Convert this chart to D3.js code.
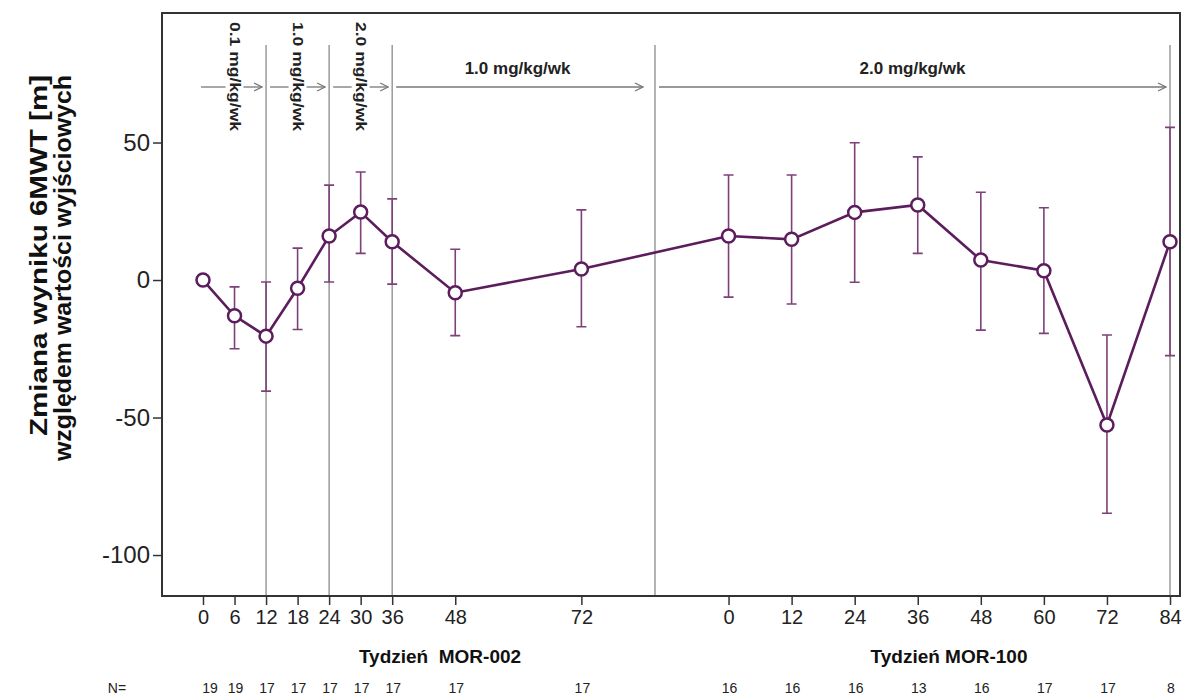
<!DOCTYPE html>
<html>
<head>
<meta charset="utf-8">
<script src="https://cdn.jsdelivr.net/npm/d3@7"></script>
<style>
body { margin: 0; background: #fff; }
text { font-family: "Liberation Sans", Arial, sans-serif; }
</style>
</head>
<body>
<div class="content"></div>
<script>
// MOR-002 study
var weeks002 = [0, 6, 12, 18, 24, 30, 36, 48, 72];
var mean002 = [0, -13, -20.4, -3, 16, 24.7, 13.9, -4.6, 4];
var lo002 = [null, -25, -40.4, -18, -0.7, 9.7, -1.5, -20.2, -17];
var hi002 = [null, -2.5, -0.7, 11.6, 34.5, 39.3, 29.5, 11.2, 25.5];
var n002 = [19, 19, 17, 17, 17, 17, 17, 17, 17];
// MOR-100 extension
var weeks100 = [0, 12, 24, 36, 48, 60, 72, 84];
var mean100 = [16, 14.8, 24.6, 27.3, 7.3, 3.4, -52.7, 13.9];
var lo100 = [-6.2, -8.7, -0.8, 9.7, -18.2, -19.4, -84.8, -27.5];
var hi100 = [38.2, 38.2, 49.9, 44.8, 31.9, 26.3, -20, 55.5];
var n100 = [16, 16, 16, 13, 16, 17, 17, 8];
// dosing phases (weeks on the joined axis, MOR-100 starts at 100)
var offset100 = 100;
var phaseStart = [0, 12, 24, 36, 86];
var phaseEnd = [12, 24, 36, 86, 184];
var doses = ["0.1 mg/kg/wk", "1.0 mg/kg/wk", "2.0 mg/kg/wk", "1.0 mg/kg/wk", "2.0 mg/kg/wk"];
var yTicks = [50, 0, -50, -100];

var width = 1184, height = 699;
var L = 162, R = 1180, T = 13, B = 596;
var purple = "#5c1d5c", barColor = "#7d4079", grey = "#9a9a9a";

var svg = d3.select(".content").append("svg").attr("width", width).attr("height", height);

var x = d3.scaleLinear().domain([-7.8, 185.9]).range([L, R]);
var y = d3.scaleLinear().domain([-114.9, 97.1]).range([B, T]);

var pts = [];
weeks002.forEach(function(w, i){ pts.push({w: w, m: mean002[i], lo: lo002[i], hi: hi002[i], n: n002[i], lab: w}); });
weeks100.forEach(function(w, i){ pts.push({w: w + offset100, m: mean100[i], lo: lo100[i], hi: hi100[i], n: n100[i], lab: w}); });

// phase separators
svg.selectAll(".sep").data(phaseEnd).enter().append("line")
  .attr("x1", function(d){ return x(d); }).attr("x2", function(d){ return x(d); })
  .attr("y1", 45).attr("y2", B)
  .attr("stroke", grey).attr("stroke-width", 1.5);

// arrows
var defs = svg.append("defs");
defs.append("marker").attr("id", "arr").attr("viewBox", "0 0 10 10").attr("refX", 9).attr("refY", 5)
  .attr("markerWidth", 10).attr("markerHeight", 10).attr("markerUnits", "userSpaceOnUse").attr("orient", "auto")
  .append("path").attr("d", "M1,1L9,5L1,9").attr("fill", "none").attr("stroke", "#777").attr("stroke-width", 1.3);

var ay = 87;
doses.forEach(function(txt, i){
  var x0 = i == 0 ? x(phaseStart[i]) - 2 : x(phaseStart[i]) + 4;
  var x1 = x(phaseEnd[i]) - (i == 3 ? 12 : 4);
  var xm = x((phaseStart[i] + phaseEnd[i]) / 2);
  if (i < 3) {
    svg.append("path").attr("d", "M" + x0 + "," + ay + "L" + (xm - 9) + "," + ay)
      .attr("stroke", "#777").attr("stroke-width", 1.3);
    svg.append("path").attr("d", "M" + (xm + 9) + "," + ay + "L" + x1 + "," + ay)
      .attr("stroke", "#777").attr("stroke-width", 1.3).attr("marker-end", "url(#arr)");
    svg.append("text").attr("transform", "translate(" + (xm - 5) + ",22) rotate(90)")
      .attr("font-size", 15).attr("font-weight", "bold").attr("fill", "#222")
      .attr("textLength", 109).attr("lengthAdjust", "spacingAndGlyphs").text(txt);
  } else {
    svg.append("path").attr("d", "M" + x0 + "," + ay + "L" + x1 + "," + ay)
      .attr("stroke", "#777").attr("stroke-width", 1.3).attr("marker-end", "url(#arr)");
    svg.append("text").attr("x", i == 3 ? xm - 6 : xm).attr("y", 74).attr("text-anchor", "middle")
      .attr("font-size", 17).attr("font-weight", "bold").attr("fill", "#222").text(txt);
  }
});

// frame
svg.append("rect").attr("x", L).attr("y", T).attr("width", R - L).attr("height", B - T)
  .attr("fill", "none").attr("stroke", "#333").attr("stroke-width", 2);

// axes
var xa = svg.append("g").attr("transform", "translate(0," + B + ")")
  .call(d3.axisBottom(x).tickValues(pts.map(function(d){ return d.w; }))
    .tickFormat(function(d, i){ return pts[i].lab; }).tickSize(9).tickPadding(5));
xa.select(".domain").remove();
xa.selectAll("line").attr("stroke", "#333").attr("stroke-width", 1.5);
xa.selectAll("text").attr("font-size", 20).attr("fill", "#222").attr("font-family", "Liberation Sans, Arial, sans-serif");

var ya = svg.append("g").attr("transform", "translate(" + L + ",0)")
  .call(d3.axisLeft(y).tickValues(yTicks).tickFormat(function(d){ return String(d); }).tickSize(9).tickPadding(3));
ya.select(".domain").remove();
ya.selectAll("line").attr("stroke", "#333").attr("stroke-width", 1.5);
ya.selectAll("text").attr("font-size", 24).attr("fill", "#222").attr("font-family", "Liberation Sans, Arial, sans-serif");

// axis titles
svg.append("text").attr("x", 440).attr("y", 663).attr("text-anchor", "middle")
  .attr("font-size", 19).attr("font-weight", "bold").attr("fill", "#111").attr("xml:space", "preserve").text("Tydzień  MOR-002");
svg.append("text").attr("x", 949).attr("y", 663).attr("text-anchor", "middle")
  .attr("font-size", 19).attr("font-weight", "bold").attr("fill", "#111").text("Tydzień MOR-100");

svg.append("text").attr("transform", "translate(47,75) rotate(-90)").attr("text-anchor", "end")
  .attr("font-size", 24).attr("font-weight", "bold").attr("fill", "#111")
  .attr("textLength", 361).attr("lengthAdjust", "spacingAndGlyphs").text("Zmiana wyniku 6MWT [m]");
svg.append("text").attr("transform", "translate(71,75) rotate(-90)").attr("text-anchor", "end")
  .attr("font-size", 24).attr("font-weight", "bold").attr("fill", "#111")
  .attr("textLength", 386).attr("lengthAdjust", "spacingAndGlyphs").text("względem wartości wyjściowych");

// N row
svg.append("text").attr("x", 117).attr("y", 693).attr("text-anchor", "middle")
  .attr("font-size", 14).attr("fill", "#222").text("N=");
svg.selectAll(".nlab").data(pts).enter().append("text")
  .attr("x", function(d, i){ return x(d.w) + (i == 0 ? 7 : 1); }).attr("y", 693).attr("text-anchor", "middle")
  .attr("font-size", 14).attr("fill", "#222").text(function(d){ return d.n; });

// error bars
var eb = pts.filter(function(d){ return d.lo != null; });
svg.selectAll(".eb").data(eb).enter().append("path")
  .attr("d", function(d){
    var cx = x(d.w), t = y(d.hi), b = y(d.lo);
    return "M" + (cx - 5) + "," + t + "H" + (cx + 5) + "M" + cx + "," + t + "V" + b + "M" + (cx - 5) + "," + b + "H" + (cx + 5);
  })
  .attr("fill", "none").attr("stroke", barColor).attr("stroke-width", 1.6);

// mean line
var line = d3.line().x(function(d){ return x(d.w); }).y(function(d){ return y(d.m); });
svg.append("path").datum(pts).attr("d", line).attr("fill", "none")
  .attr("stroke", purple).attr("stroke-width", 2.6);

svg.selectAll(".pt").data(pts).enter().append("circle")
  .attr("cx", function(d){ return x(d.w); }).attr("cy", function(d){ return y(d.m); })
  .attr("r", 6.5).attr("fill", "#fff").attr("stroke", purple).attr("stroke-width", 2.5);
</script>
</body>
</html>
